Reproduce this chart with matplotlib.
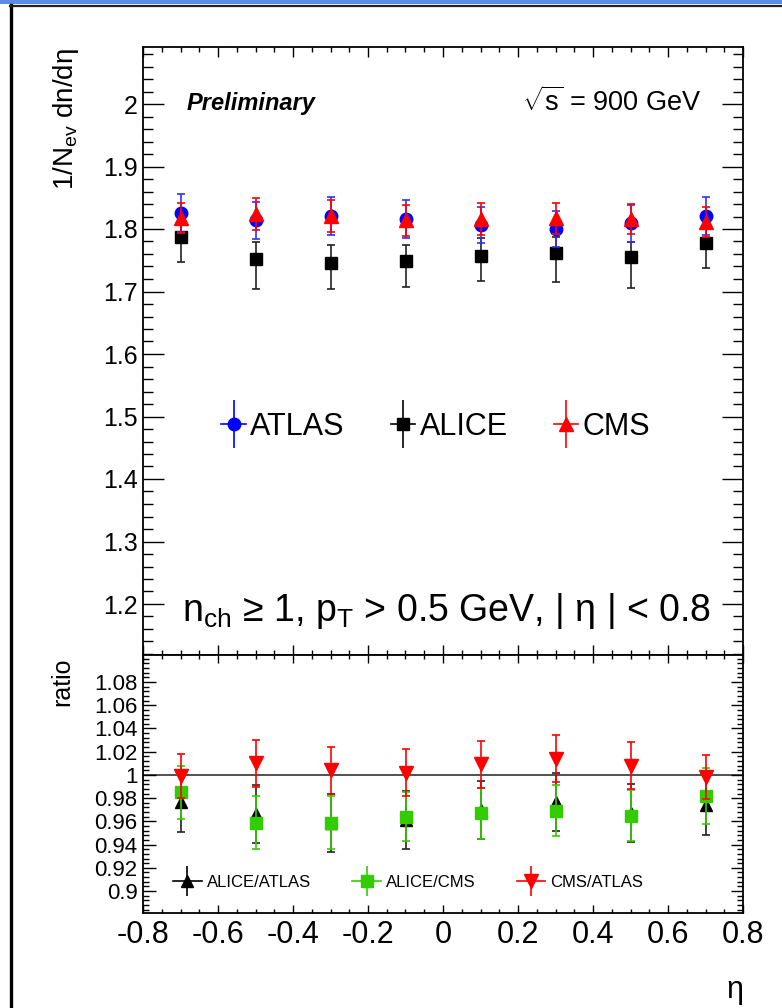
import matplotlib
matplotlib.use("Agg")
import matplotlib.pyplot as plt
from matplotlib.lines import Line2D
from matplotlib.legend_handler import HandlerTuple
from matplotlib.ticker import MultipleLocator
from matplotlib.patches import Rectangle

plt.rcParams['font.family'] = ['Liberation Sans', 'DejaVu Sans']
plt.rcParams['mathtext.fontset'] = 'custom'
plt.rcParams['mathtext.rm'] = 'Liberation Sans'
plt.rcParams['mathtext.it'] = 'Liberation Sans:italic'
plt.rcParams['mathtext.bf'] = 'Liberation Sans:bold'

# ---------------- data ----------------
eta = [-0.7, -0.5, -0.3, -0.1, 0.1, 0.3, 0.5, 0.7]

atlas = [1.826, 1.814, 1.821, 1.816, 1.806, 1.800, 1.809, 1.821]
atlas_err = [0.030, 0.030, 0.030, 0.031, 0.029, 0.029, 0.030, 0.031]

alice = [1.787, 1.752, 1.746, 1.749, 1.757, 1.762, 1.755, 1.778]
alice_err_lo = [0.040, 0.048, 0.042, 0.042, 0.040, 0.046, 0.050, 0.040]
alice_err_hi = [0.028, 0.027, 0.029, 0.026, 0.029, 0.026, 0.024, 0.028]

cms = [1.817, 1.824, 1.821, 1.814, 1.816, 1.817, 1.816, 1.811]
cms_err = [0.024, 0.025, 0.025, 0.025, 0.025, 0.025, 0.024, 0.024]

alice_atlas = [0.977, 0.966, 0.959, 0.961, 0.970, 0.977, 0.967, 0.974]
alice_atlas_err = [0.026, 0.025, 0.025, 0.025, 0.025, 0.025, 0.025, 0.026]

alice_cms = [0.985, 0.959, 0.959, 0.964, 0.967, 0.969, 0.965, 0.982]
alice_cms_err = [0.023, 0.023, 0.023, 0.021, 0.022, 0.022, 0.022, 0.024]

cms_atlas = [0.999, 1.010, 1.004, 1.002, 1.009, 1.014, 1.008, 0.998]
cms_atlas_err = [0.019, 0.020, 0.020, 0.020, 0.020, 0.020, 0.020, 0.019]

x_ticks = [-0.8, -0.6, -0.4, -0.2, 0, 0.2, 0.4, 0.6, 0.8]
x_ticklabels = ['-0.8', '-0.6', '-0.4', '-0.2', '0', '0.2', '0.4', '0.6', '0.8']
top_yticks = [1.2, 1.3, 1.4, 1.5, 1.6, 1.7, 1.8, 1.9, 2.0]
top_yticklabels = ['1.2', '1.3', '1.4', '1.5', '1.6', '1.7', '1.8', '1.9', '2']
bot_yticks = [0.90, 0.92, 0.94, 0.96, 0.98, 1.00, 1.02, 1.04, 1.06, 1.08]
bot_yticklabels = ['0.9', '0.92', '0.94', '0.96', '0.98', '1', '1.02', '1.04', '1.06', '1.08']

BLUE = '#0000ff'
RED = '#ff0000'
GREEN = '#33cc00'
BLACK = '#000000'

W, H = 782, 1008
fig = plt.figure(figsize=(W / 100, H / 100), dpi=100)

# frame decorations
fig.patches.append(Rectangle((0, 1 - 4 / H), 1, 4 / H, transform=fig.transFigure,
                             facecolor='#5b8ce6', edgecolor='none', zorder=0))
fig.add_artist(Line2D([11 / W, 11 / W], [0, 1 - 5 / H], transform=fig.transFigure,
                      color='black', lw=2.4))
fig.add_artist(Line2D([10 / W, 1], [1 - 5.5 / H, 1 - 5.5 / H], transform=fig.transFigure,
                      color='#222222', lw=1.6))

ax1 = fig.add_axes([143 / W, 1 - 655 / H, 600 / W, 608 / H])
ax2 = fig.add_axes([143 / W, 1 - 913 / H, 600 / W, 258 / H])

eb_kw = dict(linestyle='none', capsize=3, elinewidth=1.2, capthick=1.2)

# top panel
ax1.errorbar(eta, alice, yerr=[alice_err_lo, alice_err_hi], fmt='s', color=BLACK,
             ecolor='#222222', ms=8, zorder=3, **eb_kw)
ax1.errorbar(eta, atlas, yerr=atlas_err, fmt='o', color=BLUE, ecolor='#3030ff',
             ms=9, zorder=4, **eb_kw)
ax1.errorbar(eta, cms, yerr=cms_err, fmt='^', color=RED, ecolor=RED,
             ms=10, zorder=5, **eb_kw)

ax1.set_xlim(-0.8, 0.8)
ax1.set_ylim(1.1184, 2.0912)
ax1.set_xticks(x_ticks)
ax1.xaxis.set_minor_locator(MultipleLocator(0.05))
ax1.set_yticks(top_yticks)
ax1.set_yticklabels(top_yticklabels)
ax1.yaxis.set_minor_locator(MultipleLocator(0.02))
ax1.tick_params(axis='x', which='both', labelbottom=False)

# bottom panel
ax2.axhline(1.0, color='#333333', lw=1.2, zorder=1)
ax2.errorbar(eta, alice_atlas, yerr=alice_atlas_err, fmt='^', color=BLACK,
             ecolor='#222222', ms=9, zorder=3, **eb_kw)
ax2.errorbar(eta, alice_cms, yerr=alice_cms_err, fmt='s', color=GREEN,
             ecolor=GREEN, ms=8, zorder=4, **eb_kw)
ax2.errorbar(eta, cms_atlas, yerr=cms_atlas_err, fmt='v', color=RED,
             ecolor=RED, ms=10, zorder=5, **eb_kw)

ax2.set_xlim(-0.8, 0.8)
ax2.set_ylim(0.8811, 1.1033)
ax2.set_xticks(x_ticks)
ax2.set_xticklabels(x_ticklabels)
ax2.xaxis.set_minor_locator(MultipleLocator(0.05))
ax2.set_yticks(bot_yticks)
ax2.set_yticklabels(bot_yticklabels)
ax2.yaxis.set_minor_locator(MultipleLocator(0.004))

for ax in (ax1, ax2):
    for s in ax.spines.values():
        s.set_linewidth(1.3)
    ax.tick_params(which='both', direction='in', top=True, right=True,
                   width=1.0, color='black')

ax1.tick_params(axis='y', which='major', length=15, labelsize=18, pad=4)
ax1.tick_params(axis='y', which='minor', length=7.5)
ax1.tick_params(axis='x', which='major', length=7)
ax1.tick_params(axis='x', which='minor', length=3.5)

ax2.tick_params(axis='y', which='major', length=9, labelsize=16, pad=4)
ax2.tick_params(axis='y', which='minor', length=4.5)
ax2.tick_params(axis='x', which='major', length=6, labelsize=22, pad=5)
ax2.tick_params(axis='x', which='minor', length=3)

# texts
ax1.text(0.073, 0.907, 'Preliminary', transform=ax1.transAxes, fontsize=17,
         fontweight='bold', fontstyle='italic', va='center', ha='left')
ax1.text(0.93, 0.91, r'$\sqrt{\mathrm{s}}$ = 900 GeV', transform=ax1.transAxes,
         fontsize=19.5, va='center', ha='right')
ax1.text(0.065, 0.073, r'n$_{\mathrm{ch}}$ ≥ 1, p$_{\mathrm{T}}$ > 0.5 GeV, | η | < 0.8',
         transform=ax1.transAxes, fontsize=27, va='center', ha='left')

fig.text(66 / W, 1 - 48 / H, r'1/N$_{\mathrm{ev}}$ dn/dη', rotation=90, fontsize=20,
         ha='center', va='top')
fig.text(62 / W, 1 - 658 / H, 'ratio', rotation=90, fontsize=18, ha='center', va='top')
fig.text(735 / W, 1 - 990 / H, 'η', fontsize=22, ha='center', va='center')


def handle(color, marker, ms, vms):
    return (Line2D([], [], color=color, lw=1.2, marker=marker, ms=ms, ls='-'),
            Line2D([], [], color=color, ls='none', marker='|', ms=vms, mew=1.2))


h1 = [handle(BLUE, 'o', 9, 34), handle(BLACK, 's', 8, 34), handle(RED, '^', 10, 34)]
leg1 = ax1.legend(h1, ['ATLAS', 'ALICE', 'CMS'], ncol=3, loc='center',
                  bbox_to_anchor=(0.488, 0.375), frameon=False, fontsize=22,
                  handlelength=0.8, handletextpad=0.15, columnspacing=1.5,
                  handler_map={tuple: HandlerTuple(ndivide=1, pad=0)})

h2 = [handle(BLACK, '^', 9, 22), handle(GREEN, 's', 8, 22), handle(RED, 'v', 10, 22)]
leg2 = ax2.legend(h2, ['ALICE/ATLAS', 'ALICE/CMS', 'CMS/ATLAS'], ncol=3, loc='center',
                  bbox_to_anchor=(0.442, 0.12), frameon=False, fontsize=12,
                  handlelength=1.7, handletextpad=0.3, columnspacing=2.5,
                  handler_map={tuple: HandlerTuple(ndivide=1, pad=0)})

fig.savefig('out.png', dpi=100)
